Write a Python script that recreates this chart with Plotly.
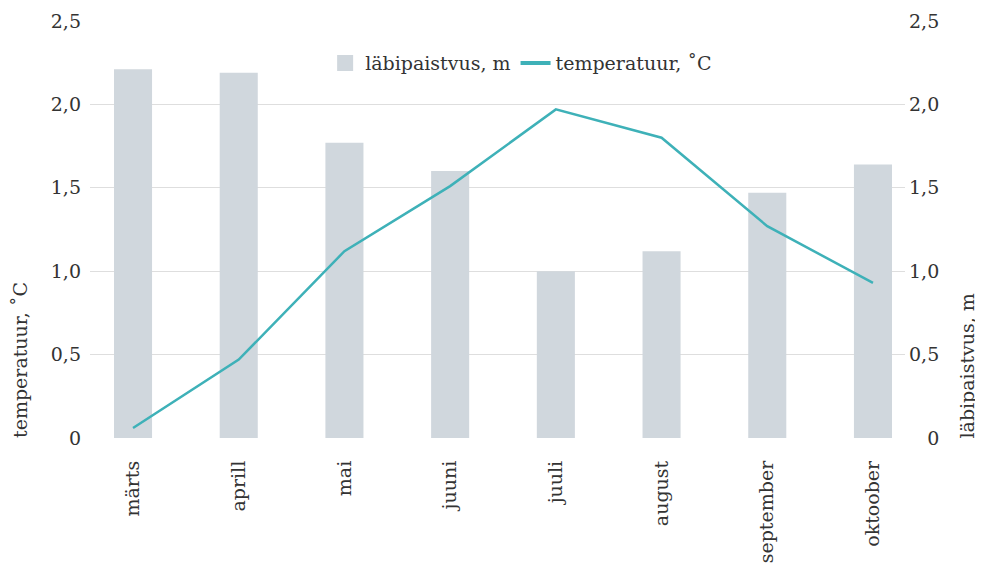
import plotly.graph_objects as go

months = ["märts", "aprill", "mai", "juuni", "juuli", "august", "september", "oktoober"]
transparency_m = [2.21, 2.19, 1.77, 1.60, 1.00, 1.12, 1.47, 1.64]
temperature_c = [0.06, 0.47, 1.12, 1.51, 1.97, 1.80, 1.27, 0.93]
tick_vals = [0, 0.5, 1.0, 1.5, 2.0, 2.5]
tick_text_left = ["0", "0,5", "1,0", "1,5", "2,0", "2,5"]
tick_text_right = ["\u2008\u20070", "0,5", "1,0", "1,5", "2,0", "2,5"]

FONT = "DejaVu Serif"
TXT = "#333333"
FS = 19
BAR_C = "#d0d7dd"
LINE_C = "#3eb1b8"

fig = go.Figure()
# bars belong to the right axis (läbipaistvus); drawn on base axis so the line stays on top
fig.add_trace(go.Bar(
    x=months, y=transparency_m, name="läbipaistvus, m", yaxis="y", showlegend=False,
    marker=dict(color=BAR_C, line=dict(width=0)), width=0.36,
))
fig.add_trace(go.Scatter(
    x=months, y=temperature_c, name="temperatuur, ˚C", mode="lines", showlegend=False,
    line=dict(color=LINE_C, width=2.5), yaxis="y2",
))
# legend entries
fig.add_trace(go.Scatter(
    x=[months[0]], y=[None], name="läbipaistvus, m", mode="markers",
    marker=dict(symbol="square", size=16, color=BAR_C), yaxis="y",
))
fig.add_trace(go.Scatter(
    x=[months[0]], y=[None], name="temperatuur, ˚C", mode="lines",
    line=dict(color=LINE_C, width=4), yaxis="y2",
))

fig.update_layout(
    width=983, height=570,
    margin=dict(l=82, r=86, t=13, b=140, autoexpand=False),
    paper_bgcolor="white", plot_bgcolor="white",
    font=dict(family=FONT, size=FS, color=TXT),
    showlegend=True,
    legend=dict(orientation="h", x=0.529, y=0.899, xanchor="center", yanchor="middle",
                bgcolor="rgba(255,255,255,0)", font=dict(size=FS, color=TXT),
                itemsizing="trace", itemwidth=30, traceorder="normal"),
    xaxis=dict(type="category", range=[-0.407, 7.303], tickangle=-90, automargin=False,
               showgrid=False, showline=False, zeroline=False, ticks="",
               ticklabelstandoff=18,
               tickfont=dict(size=FS, color=TXT)),
    yaxis=dict(range=[0, 2.5], tickvals=tick_vals, ticktext=tick_text_right,
               side="right", automargin=False,
               showgrid=True, gridcolor="#dedede", gridwidth=1, zeroline=False,
               showline=False, ticks="", ticklabelstandoff=3,
               tickfont=dict(size=FS, color=TXT)),
    yaxis2=dict(range=[0, 2.5], tickvals=tick_vals, ticktext=tick_text_left,
                overlaying="y", side="left", showgrid=False, zeroline=False,
                automargin=False,
                showline=False, ticks="", ticklabelstandoff=8,
                tickfont=dict(size=FS, color=TXT)),
    annotations=[
        dict(text="temperatuur, ˚C", xref="paper", yref="paper", x=-0.086, y=-0.005,
             xanchor="center", yanchor="bottom", textangle=-90, showarrow=False,
             font=dict(size=FS, color=TXT)),
        dict(text="läbipaistvus, m", xref="paper", yref="paper", x=1.076, y=-0.005,
             xanchor="center", yanchor="bottom", textangle=-90, showarrow=False,
             font=dict(size=FS, color=TXT)),
    ],
)

fig.write_html("out.html")
